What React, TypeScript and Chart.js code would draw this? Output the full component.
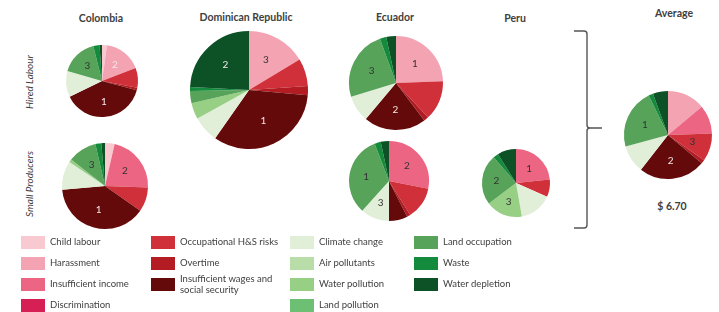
import React, { useEffect, useRef } from 'react';
import { Chart, registerables } from 'chart.js';

Chart.register(...registerables);

const categories = [
  'Child labour', 'Harassment', 'Insufficient income', 'Discrimination',
  'Occupational H&S risks', 'Overtime', 'Insufficient wages and social security',
  'Climate change', 'Air pollutants', 'Water pollution', 'Land pollution',
  'Land occupation', 'Waste', 'Water depletion',
];

const colors = [
  '#f9c9d2', '#f4a3b3', '#ec6684', '#d51f55',
  '#d0303a', '#b31c22', '#650a0b',
  '#e1efd9', '#b9dda8', '#97cf85', '#6cbf73',
  '#57a35a', '#148b3c', '#0d5226',
];

// shares (degrees of each pie)
const colombiaHired = [8, 61, 0, 0, 32, 4, 139, 42, 0, 0, 0, 60, 10, 4];
const colombiaSmall = [13, 0, 79, 0, 33, 0, 140, 39, 0, 4, 0, 39, 8, 5];
const dominicanHired = [0, 59, 0, 0, 27, 9, 120, 26, 0, 16, 0, 12, 4, 87];
const ecuadorHired = [0, 88, 0, 0, 49, 6, 77, 33, 0, 0, 0, 87, 8, 12];
const ecuadorSmall = [0, 0, 101, 0, 47, 5, 27, 42, 0, 0, 0, 117, 9, 12];
const peruSmall = [0, 0, 84, 0, 30, 0, 0, 56, 0, 63, 0, 86, 9, 32];
const averageAll = [0, 50, 38, 0, 37, 5, 88, 37, 0, 0, 0, 79, 6, 20];

// rank labels per category
const colombiaHiredRanks = ['', '2', '', '', '', '', '1', '', '', '', '', '3', '', ''];
const colombiaSmallRanks = ['', '', '2', '', '', '', '1', '', '', '', '', '3', '', ''];
const dominicanHiredRanks = ['', '3', '', '', '', '', '1', '', '', '', '', '', '', '2'];
const ecuadorHiredRanks = ['', '1', '', '', '', '', '2', '', '', '', '', '3', '', ''];
const ecuadorSmallRanks = ['', '', '2', '', '', '', '', '3', '', '', '', '1', '', ''];
const peruSmallRanks = ['', '', '1', '', '', '', '', '', '', '3', '', '2', '', ''];
const averageRanks = ['', '', '', '', '3', '', '2', '', '', '', '', '1', '', ''];

const countries = ['Colombia', 'Dominican Republic', 'Ecuador', 'Peru'];
const rowLabels = ['Hired Labour', 'Small Producers'];
const averageValue = '$ 6.70';

const darkIdx = [6, 13];

function rankPlugin(ranks: string[], lightIdx: number[]) {
  return {
    id: 'ranks',
    afterDatasetsDraw(chart: any) {
      const meta = chart.getDatasetMeta(0);
      const ctx = chart.ctx;
      ctx.save();
      ctx.font = '10px Lato, sans-serif';
      ctx.textAlign = 'center';
      ctx.textBaseline = 'middle';
      meta.data.forEach((arc: any, i: number) => {
        const t = ranks[i];
        if (!t) return;
        const p = arc.getProps(['startAngle', 'endAngle', 'outerRadius', 'x', 'y'], true);
        const a = (p.startAngle + p.endAngle) / 2;
        const rr = p.outerRadius * 0.58;
        ctx.fillStyle = darkIdx.includes(i) || lightIdx.includes(i) ? '#f3e8e8' : '#333';
        ctx.fillText(t, p.x + Math.cos(a) * rr, p.y + Math.sin(a) * rr);
      });
      ctx.restore();
    },
  };
}

function Pie({ data, ranks, cx, cy, r, light = [] }: { data: number[]; ranks: string[]; cx: number; cy: number; r: number; light?: number[] }) {
  const ref = useRef<HTMLCanvasElement>(null);
  const size = 2 * r + 6;
  useEffect(() => {
    const chart = new Chart(ref.current as HTMLCanvasElement, {
      type: 'pie',
      data: {
        labels: categories,
        datasets: [{ data, backgroundColor: colors, borderWidth: 0, hoverOffset: 0, radius: r } as any],
      },
      options: {
        responsive: false,
        animation: false,
        events: [],
        layout: { padding: 0 },
        plugins: { legend: { display: false }, tooltip: { enabled: false } },
      } as any,
      plugins: [rankPlugin(ranks, light)],
    });
    return () => chart.destroy();
  }, []);
  return (
    <canvas
      ref={ref}
      width={size}
      height={size}
      style={{ position: 'absolute', left: cx - size / 2, top: cy - size / 2, width: size, height: size }}
    />
  );
}

const legendCols = [
  { sx: 21, tx: 50, items: [0, 1, 2, 3] },
  { sx: 151, tx: 180, items: [4, 5, 6] },
  { sx: 290, tx: 319, items: [7, 8, 9, 10] },
  { sx: 414, tx: 443, items: [11, 12, 13] },
];
const rowY = [242, 263, 284, 305];

export default function App() {
  const title = (text: string, cx: number, cy: number) => (
    <div
      key={text}
      style={{
        position: 'absolute', left: cx - 70, top: cy - 7, width: 140, height: 14, lineHeight: '14px',
        textAlign: 'center', fontWeight: 700, fontSize: 10.5,
      }}
    >
      {text}
    </div>
  );
  return (
    <div
      style={{
        position: 'absolute', left: 0, top: 0, width: 719, height: 312, background: '#fff', overflow: 'hidden',
        fontFamily: 'Lato, sans-serif', color: '#404040',
      }}
    >
      {title(countries[0], 101, 18)}
      {title(countries[1], 246, 17)}
      {title(countries[2], 395, 17)}
      {title(countries[3], 515, 18)}
      {title('Average', 674, 13)}
      {title(averageValue, 672, 206)}

      {rowLabels.map((t, i) => (
        <div
          key={t}
          style={{
            position: 'absolute', left: 29 - 50, top: (i === 0 ? 82 : 184) - 7, width: 100, height: 14,
            lineHeight: '14px', textAlign: 'center', fontStyle: 'italic', fontSize: 10,
            transform: 'rotate(-90deg)',
          }}
        >
          {t}
        </div>
      ))}

      <Pie data={colombiaHired} ranks={colombiaHiredRanks} cx={102} cy={81} r={36} light={[1]} />
      <Pie data={colombiaSmall} ranks={colombiaSmallRanks} cx={105} cy={186} r={43} />
      <Pie data={dominicanHired} ranks={dominicanHiredRanks} cx={249} cy={90} r={59} />
      <Pie data={ecuadorHired} ranks={ecuadorHiredRanks} cx={396} cy={83} r={47} />
      <Pie data={ecuadorSmall} ranks={ecuadorSmallRanks} cx={389} cy={181} r={40} />
      <Pie data={peruSmall} ranks={peruSmallRanks} cx={516} cy={183} r={34} />
      <Pie data={averageAll} ranks={averageRanks} cx={668} cy={135} r={44} />

      <svg style={{ position: 'absolute', left: 0, top: 0 }} width={719} height={312}>
        <path
          d="M574,31 L584,31 Q587,31 587,34 L587,125 Q587,128 590,128 L602,128 M590,128 Q587,128 587,131 L587,225 Q587,228 584,228 L574,228"
          fill="none"
          stroke="#555"
          strokeWidth={1.4}
        />
      </svg>

      {legendCols.map((col) =>
        col.items.map((idx, j) => {
          const y = rowY[j];
          const twoLine = idx === 6;
          return (
            <React.Fragment key={idx}>
              <div
                style={{
                  position: 'absolute', left: col.sx, top: y - 6.5, width: 24, height: 13, background: colors[idx],
                }}
              />
              <div
                style={{
                  position: 'absolute', left: col.tx, top: twoLine ? y - 11 : y - 6, fontSize: 9.5,
                  lineHeight: twoLine ? '11px' : '12px', whiteSpace: 'nowrap',
                }}
              >
                {twoLine ? (
                  <>
                    Insufficient wages and
                    <br />
                    social security
                  </>
                ) : (
                  categories[idx]
                )}
              </div>
            </React.Fragment>
          );
        })
      )}
    </div>
  );
}
